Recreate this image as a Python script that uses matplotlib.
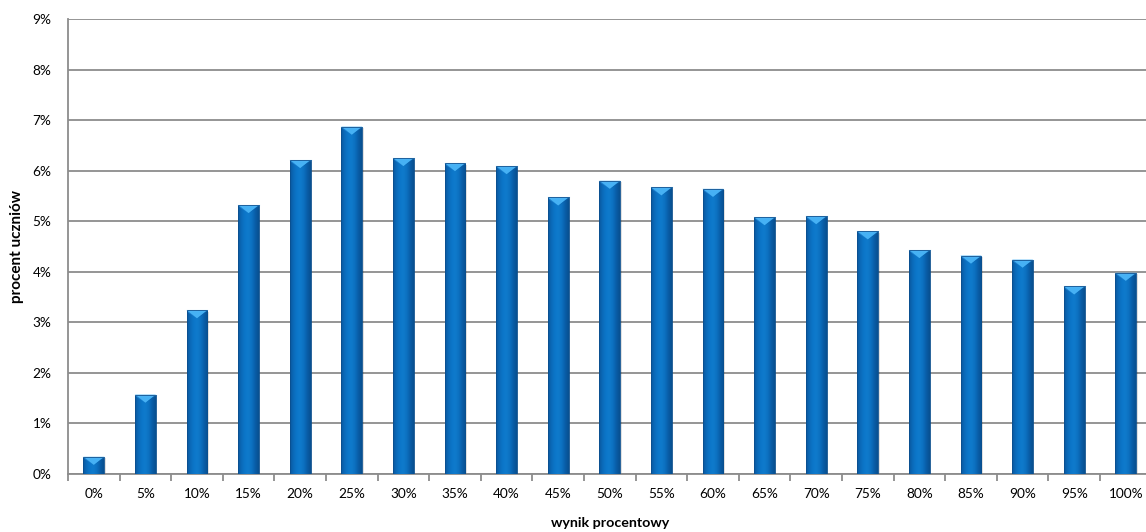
import numpy as np
import matplotlib
matplotlib.use('Agg')
import matplotlib.pyplot as plt
from matplotlib.colors import LinearSegmentedColormap
from matplotlib.patches import Polygon, Rectangle
from matplotlib.ticker import FuncFormatter, MultipleLocator

# Score distribution (percent of students per score bucket)
score_labels = ['0%', '5%', '10%', '15%', '20%', '25%', '30%', '35%', '40%', '45%',
                '50%', '55%', '60%', '65%', '70%', '75%', '80%', '85%', '90%', '95%', '100%']
student_pct = [0.34, 1.57, 3.24, 5.32, 6.21, 6.87, 6.25, 6.15, 6.09, 5.47,
               5.80, 5.67, 5.64, 5.08, 5.10, 4.80, 4.43, 4.32, 4.24, 3.71, 3.98]

x_title = 'wynik procentowy'
y_title = 'procent uczniów'

plt.rcParams['font.family'] = ['Lato', 'DejaVu Sans']

fig = plt.figure(figsize=(11.46, 5.32), dpi=100)
ax = fig.add_axes([68 / 1146, 58 / 532, 1083.6 / 1146, 455 / 532])

bar_w = 0.4
bevel = 0.16  # depth of the top bevel, in data units

# horizontal shading across each bar
bar_cmap = LinearSegmentedColormap.from_list(
    'bar', ['#0a579e', '#0b6bba', '#0c76c9', '#0f7bcc', '#0c70c0', '#095da7', '#08508f'])
grad = np.linspace(0, 1, 64).reshape(1, -1)

x = np.arange(len(score_labels))
bars = ax.bar(x, student_pct, width=bar_w, color='none', zorder=3)

for b, v in zip(bars, student_pct):
    x0 = b.get_x()
    x1 = x0 + b.get_width()
    # soft drop shadow
    ax.add_patch(Rectangle((x0 + 0.03, 0), bar_w, v - 0.03, facecolor='#000000',
                           alpha=0.12, edgecolor='none', zorder=2))
    im = ax.imshow(grad, cmap=bar_cmap, extent=(x0, x1, 0, v), aspect='auto',
                   zorder=3, interpolation='bicubic')
    im.set_clip_path(b)
    # top bevel: light triangle with darker side facets
    xm = (x0 + x1) / 2
    ax.add_patch(Polygon([(x0, v), (x0 + 0.04, v - bevel * 0.35), (xm, v - bevel)],
                         closed=True, facecolor='#1f80d0', edgecolor='none', zorder=4))
    ax.add_patch(Polygon([(x1, v), (x1 - 0.04, v - bevel * 0.35), (xm, v - bevel)],
                         closed=True, facecolor='#0a5ea8', edgecolor='none', zorder=4))
    ax.add_patch(Polygon([(x0, v), (x1, v), (xm, v - bevel)], closed=True,
                         facecolor='#46b1f4', edgecolor='none', zorder=4))
    ax.plot([x0, x1], [v, v], color='#8fcff8', lw=0.8, zorder=5)
    ax.add_patch(Rectangle((x0, 0), bar_w, v, facecolor='none', edgecolor='#0a4f8f',
                           lw=0.6, zorder=5))

ax.set_xlim(-0.5, len(score_labels) - 0.5)
ax.set_ylim(0, 9)
ax.yaxis.set_major_locator(MultipleLocator(1))
ax.yaxis.set_major_formatter(FuncFormatter(lambda v, p: f'{int(round(v))}%'))
ax.grid(axis='y', color='#8c8c8c', lw=1.3, zorder=1)
ax.set_axisbelow(True)

ax.set_xticks(x)
ax.set_xticklabels(score_labels)
ax.set_xticks(np.arange(-0.5, len(score_labels)), minor=True)
ax.tick_params(axis='x', which='major', length=0, pad=10, labelsize=9.8, colors='#000000')
ax.tick_params(axis='x', which='minor', length=5, width=1.3, color='#8c8c8c')
ax.tick_params(axis='y', length=0, pad=12, labelsize=9.8)

for side in ('top', 'right'):
    ax.spines[side].set_visible(False)
for side in ('left', 'bottom'):
    ax.spines[side].set_color('#8c8c8c')
    ax.spines[side].set_linewidth(1.3)

ax.set_xlabel(x_title, fontsize=10.3, fontweight='bold', labelpad=12)
ax.set_ylabel(y_title, fontsize=11, fontweight='bold', labelpad=6)

fig.savefig('out.png', dpi=100)
